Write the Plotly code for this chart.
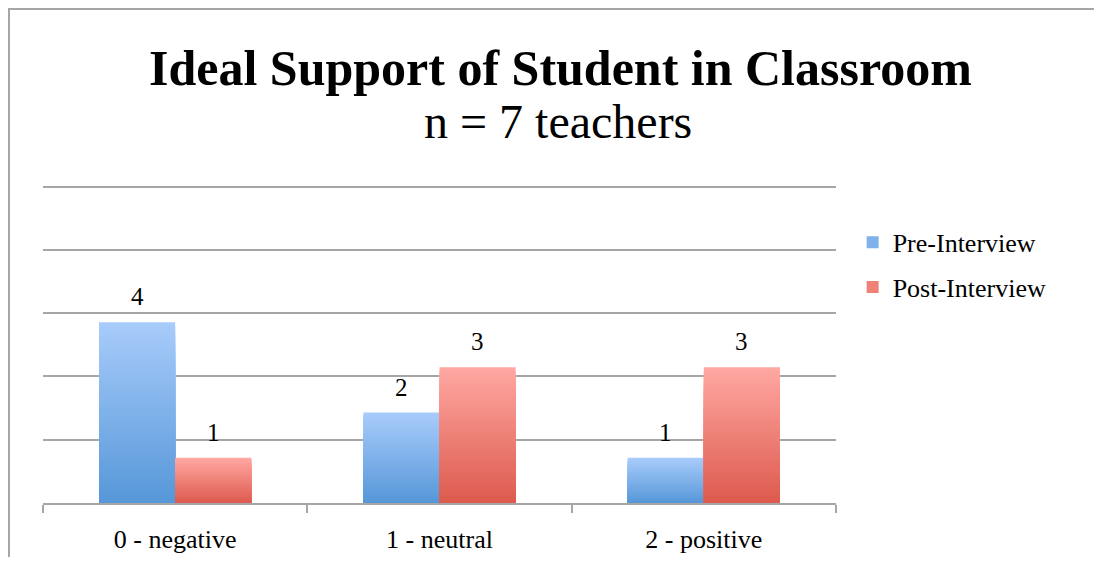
import plotly.graph_objects as go

categories = ["0 - negative", "1 - neutral", "2 - positive"]
pre_interview = [4, 2, 1]
post_interview = [1, 3, 3]
grid_values = [1.4, 2.8, 4.2, 5.6, 7.0]

FONT = "Liberation Serif"
BAR_W = 0.288


def mix(c1, c2, t):
    return "rgb(%d,%d,%d)" % tuple(round(a + (b - a) * t) for a, b in zip(c1, c2))


def gradient_bars(fig, values, name, top, bottom, offset, rank, steps=40):
    # full-height light bar first, then shorter & darker bars on top of it
    for k in range(steps):
        frac = 1 - k / steps
        fig.add_trace(go.Bar(
            x=categories,
            y=[v * frac for v in values],
            width=BAR_W,
            offset=offset,
            marker=dict(color=mix(bottom, top, 1 - (k + 0.5) / steps), line=dict(width=0)),
            name=name,
            legendgroup=name,
            showlegend=False,
            hoverinfo="skip" if k else None,
        ))
    # legend entry only
    fig.add_trace(go.Bar(
        x=[None], y=[None], name=name, legendgroup=name, legendrank=rank,
        marker=dict(color=mix(bottom, top, 0.5), line=dict(width=0)),
    ))


fig = go.Figure()
gradient_bars(fig, pre_interview, "Pre-Interview", (168, 204, 251), (86, 151, 216), -BAR_W, 1)
gradient_bars(fig, post_interview, "Post-Interview", (255, 168, 162), (221, 90, 78), 0.0, 2)

# value labels above bars
labels = []
for values, shift in ((pre_interview, -38), (post_interview, 38)):
    for cat, v in zip(categories, values):
        labels.append(dict(
            x=cat, y=v, xref="x", yref="y", text=str(v), showarrow=False,
            xshift=shift, yshift=10, yanchor="bottom",
            font=dict(family=FONT, size=25, color="#000000"),
        ))

fig.update_layout(
    width=1086,
    height=549,
    barmode="overlay",
    plot_bgcolor="white",
    paper_bgcolor="white",
    margin=dict(l=35, r=258, t=174, b=54, autoexpand=False),
    font=dict(family=FONT, color="#000000"),
    showlegend=True,
    legend=dict(
        x=1.021, y=0.885, xanchor="left", yanchor="top",
        font=dict(family=FONT, size=26),
        traceorder="grouped", tracegroupgap=8,
        bgcolor="rgba(0,0,0,0)",
    ),
    xaxis=dict(
        showgrid=False,
        showline=True, linecolor="#a6a6a6", linewidth=1.5,
        ticks="outside", tickson="boundaries", ticklen=8, tickcolor="#a6a6a6", tickwidth=1.5,
        tickfont=dict(family=FONT, size=26),
        ticklabelstandoff=12,
        automargin=False,
        fixedrange=True,
    ),
    yaxis=dict(
        range=[0, 7.1],
        tickvals=grid_values,
        showticklabels=False,
        showgrid=True, gridcolor="#a6a6a6", gridwidth=1.5,
        zeroline=False, showline=False,
        automargin=False,
        fixedrange=True,
    ),
    annotations=labels + [
        dict(text="<b>Ideal Support of Student in Classroom</b>", xref="paper", yref="paper",
             x=0.652, y=1.356, xanchor="center", yanchor="middle", showarrow=False,
             font=dict(family=FONT, size=50)),
        dict(text="n = 7 teachers", xref="paper", yref="paper",
             x=0.650, y=1.188, xanchor="center", yanchor="middle", showarrow=False,
             font=dict(family=FONT, size=48)),
    ],
    shapes=[
        dict(type="rect", xref="paper", yref="paper",
             x0=-0.0429, y0=-0.3, x1=1.4, y1=1.539,
             line=dict(color="#a6a6a6", width=2), fillcolor="rgba(0,0,0,0)", layer="below"),
    ],
)

fig.write_html("out.html")
